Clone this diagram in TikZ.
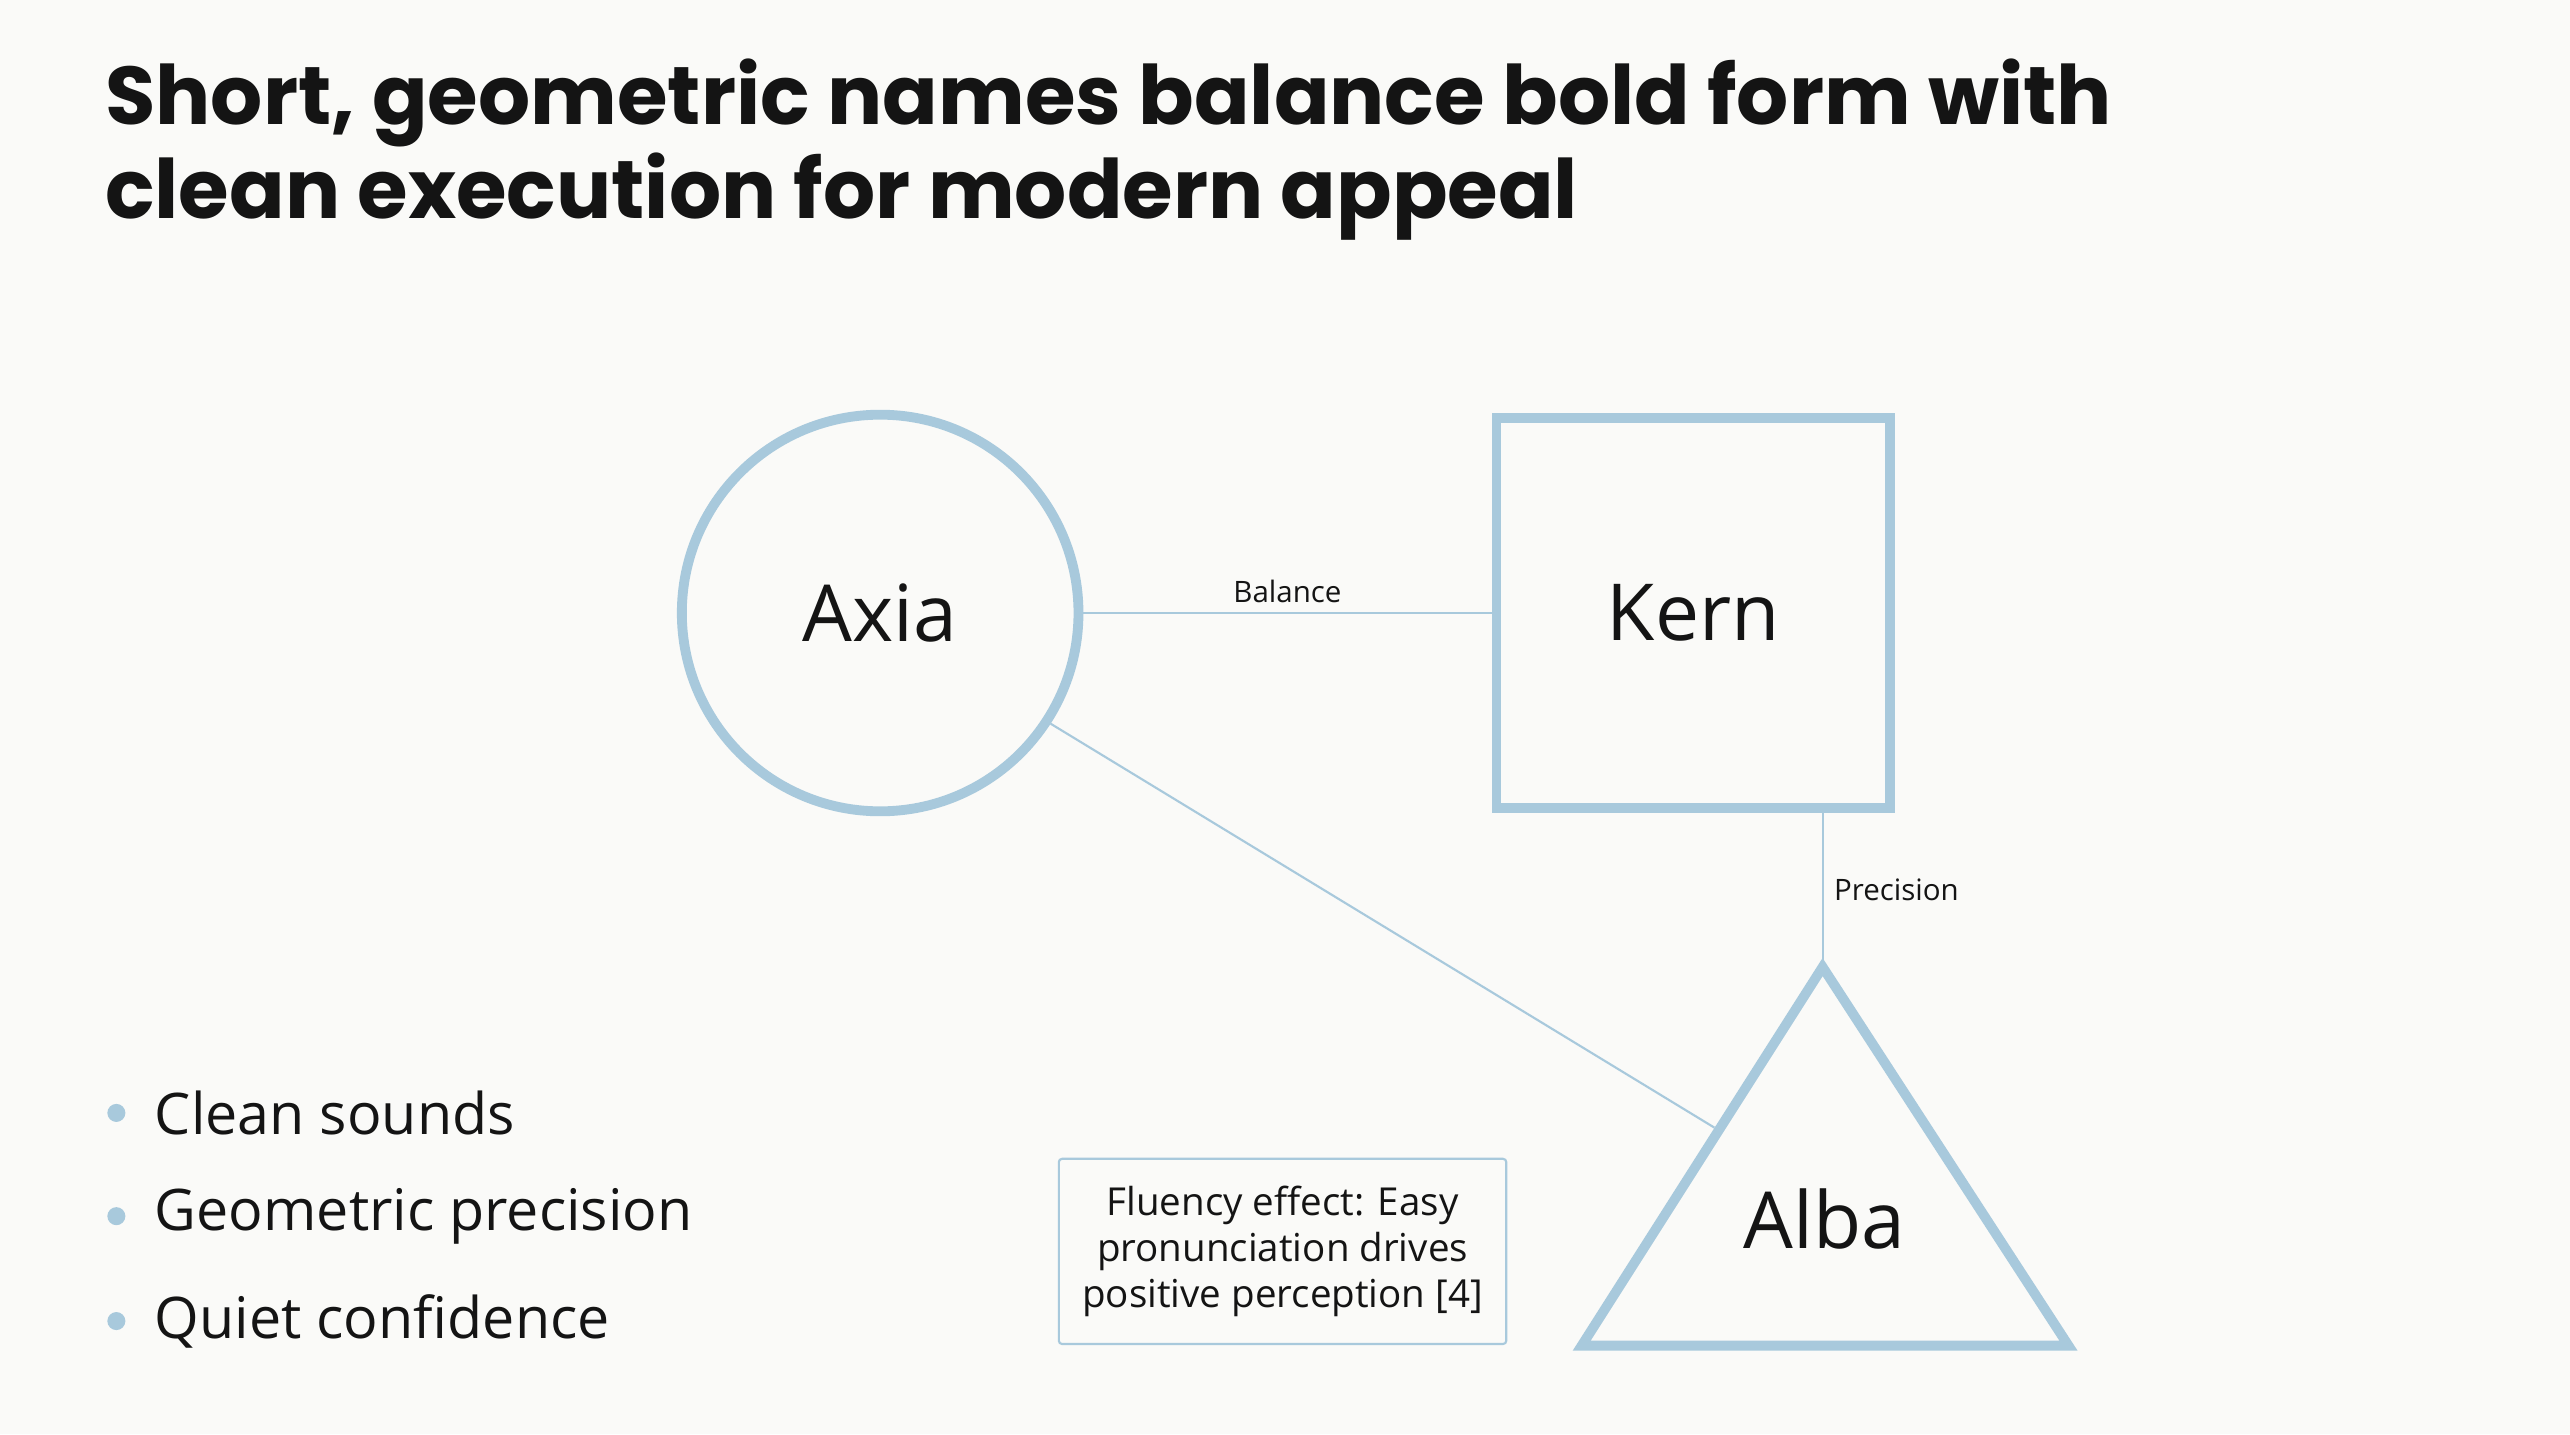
\documentclass[tikz,border=0pt]{standalone}
\usepackage{fontspec}
\setmainfont{Poppins}
\newfontfamily\bodyfont{Open Sans}
\definecolor{sb}{HTML}{A8C9DC}
\definecolor{bg}{HTML}{FAFAF8}
\definecolor{ink}{HTML}{141414}
\begin{document}
\begin{tikzpicture}[x=1pt,y=-1pt,
  shapeline/.style={draw=sb,line width=6pt},
  conn/.style={draw=sb,line width=1.3pt},
  lbl/.style={font=\bodyfont\fontsize{18}{21}\selectfont,text=ink},
  big/.style={font=\bodyfont\fontsize{48}{56}\selectfont,text=ink},
  bul/.style={font=\bodyfont\fontsize{35}{40}\selectfont,text=ink,anchor=west},
  dot/.style={circle,fill=sb,inner sep=0pt,minimum size=11pt}]
\fill[bg] (0,0) rectangle (1568,875);
\useasboundingbox (0,0) rectangle (1568,875);
\node[anchor=north west,align=left,text=ink,font=\fontsize{50}{57}\selectfont\bfseries,inner sep=0pt] (title) at (64,36)
 {Short, geometric names balance bold form with\\clean execution for modern appeal};
% shapes
\node[shapeline,circle,minimum size=242pt,inner sep=0pt] (axia) at (537,374) {};
\node[big] at (axia) {Axia};
\node[shapeline,rectangle,minimum width=240pt,minimum height=238pt,inner sep=0pt] (kern) at (1033,374) {};
\node[big] at (kern) {Kern};
\draw[shapeline,line join=miter] (1112,590) coordinate (apex) -- (1262,821) -- (965,821) -- cycle;
\node[big] (alba) at (1113,744) {Alba};
\coordinate (aleft) at (1046,688);
% connectors
\draw[conn] (axia.east) -- node[lbl,above=2pt] (bal) {Balance} (kern.west);
\draw[conn] (kern.south -| apex) -- node[lbl,right=3pt] (prec) {Precision} (apex);
\draw[conn] (axia.-33) -- (aleft);
% note box
\node[draw=sb,line width=1.3pt,rounded corners=2pt,minimum width=273pt,minimum height=113pt,align=center,
  font=\bodyfont\fontsize{23.5}{28}\selectfont,text=ink] (note) at (782.5,763.5)
 {Fluency effect: Easy\\pronunciation drives\\positive perception [4]};
% bullets
\node[dot] (d1) at (71,679) {}; \node[bul] (b1) at (91,679) {Clean sounds};
\node[dot] (d2) at (71,742) {}; \node[bul] (b2) at (91,742) {Geometric precision};
\node[dot] (d3) at (71,806) {}; \node[bul] (b3) at (91,806) {Quiet confidence};
\end{tikzpicture}
\end{document}
